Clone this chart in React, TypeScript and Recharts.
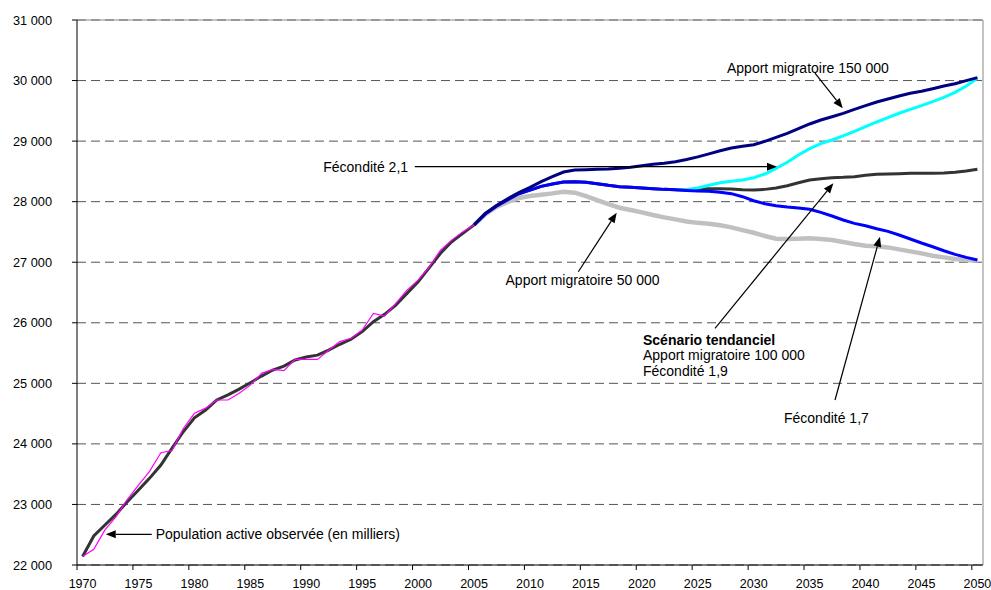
import React from 'react';
import { LineChart, Line, XAxis, YAxis, CartesianGrid, ReferenceLine, ReferenceDot } from 'recharts';

// Years 1970..2050
const years: number[] = Array.from({ length: 81 }, (_, i) => 1970 + i);

// Population active observée, 1970..2005 (milliers)
const observed: number[] = [
  22140, 22260, 22580, 22800, 23085, 23320, 23550, 23855, 23890, 24255,
  24505, 24590, 24725, 24725, 24835, 24970, 25165, 25230, 25210, 25395,
  25395, 25395, 25545, 25690, 25745, 25880, 26155, 26110, 26320, 26540,
  26705, 26925, 27200, 27365, 27505, 27615,
];

// Scénario tendanciel, 1970..2050
const tendanciel: number[] = [
  22140, 22480, 22660, 22840, 23045, 23240, 23435, 23650, 23930, 24200,
  24430, 24560, 24725, 24810, 24905, 25010, 25120, 25220, 25285, 25385,
  25435, 25465, 25550, 25645, 25727, 25853, 26018, 26140, 26293, 26486,
  26679, 26910, 27147, 27339, 27477, 27615, 27795, 27925, 28030, 28131,
  28191, 28253, 28291, 28324, 28330, 28319, 28297, 28270, 28248, 28237,
  28226, 28215, 28203, 28198, 28192, 28209, 28214, 28214, 28209, 28198,
  28192, 28203, 28225, 28264, 28313, 28358, 28380, 28396, 28402, 28413,
  28435, 28452, 28457, 28462, 28468, 28468, 28468, 28474, 28485, 28506,
  28534,
];

// Apport migratoire 150 000, 2005..2050
const migr150: number[] = [
  27615, 27805, 27935, 28048, 28148, 28236, 28330, 28413, 28490, 28523,
  28528, 28534, 28540, 28551, 28567, 28594, 28617, 28633, 28660, 28695,
  28740, 28790, 28840, 28885, 28915, 28941, 28997, 29063, 29129, 29205,
  29283, 29348, 29403, 29458, 29525, 29585, 29646, 29695, 29745, 29789,
  29822, 29866, 29910, 29948, 29998, 30048,
];

// Apport migratoire 50 000, 2005..2050
const migr50: number[] = [
  27615, 27790, 27915, 27995, 28060, 28093, 28115, 28137, 28165, 28148,
  28093, 28027, 27961, 27900, 27862, 27824, 27780, 27741, 27708, 27672,
  27650, 27635, 27610, 27576, 27530, 27487, 27433, 27388, 27383, 27388,
  27394, 27383, 27367, 27333, 27300, 27272, 27262, 27245, 27212, 27179,
  27146, 27107, 27080, 27053, 27036, 27025,
];

// Fécondité 2,1, 2023..2050
const fec21: number[] = [
  28198, 28200, 28226, 28270, 28313, 28336, 28358, 28396, 28457, 28551,
  28650, 28771, 28875, 28958, 29019, 29085, 29162, 29239, 29316, 29387,
  29460, 29525, 29585, 29651, 29723, 29806, 29910, 30037,
];

// Fécondité 1,7, 2005..2050
const fec17: number[] = [
  27615, 27795, 27925, 28030, 28131, 28191, 28253, 28291, 28324, 28330,
  28319, 28297, 28270, 28248, 28237, 28226, 28215, 28203, 28198, 28185,
  28176, 28170, 28154, 28132, 28082, 28016, 27967, 27934, 27912, 27896,
  27874, 27824, 27763, 27697, 27642, 27603, 27554, 27510, 27449, 27383,
  27317, 27256, 27190, 27130, 27080, 27036,
];

const yTicks = [22000, 23000, 24000, 25000, 26000, 27000, 28000, 29000, 30000, 31000];
const xTicks = [1970, 1975, 1980, 1985, 1990, 1995, 2000, 2005, 2010, 2015, 2020, 2025, 2030, 2035, 2040, 2045, 2050];

const from = (arr: number[], start: number, y: number) => {
  const i = y - start;
  return i >= 0 && i < arr.length ? arr[i] : null;
};

// points sit in the middle of each year, as in the original
const data = years.map(y => ({
  x: y + 0.5,
  observed: from(observed, 1970, y),
  tendanciel: from(tendanciel, 1970, y),
  migr150: from(migr150, 2005, y),
  migr50: from(migr50, 2005, y),
  fec21: from(fec21, 2023, y),
  fec17: from(fec17, 2005, y),
}));

const FONT = '"Liberation Sans", Arial, sans-serif';
const W = 991, H = 590;
const M = { top: 20, right: 8, bottom: 0, left: 0 };
const Y_W = 77;
const HALF_YEAR = (W - M.right - Y_W) / 81 / 2;

const fmt = (v: number) => `${Math.floor(v / 1000)} ${String(v % 1000).padStart(3, '0')}`;

// year labels are centred under the year, tick marks sit on the year boundary
const XTick = (props: any) => (
  <text x={props.x + HALF_YEAR} y={props.y} dy="0.71em" textAnchor="middle"
    fontFamily={FONT} fontSize={12.5} fill="#000">{props.payload.value}</text>
);

const Arrow = (props: any) => {
  const { x1, y1, x2, y2 } = props;
  const a = Math.atan2(y2 - y1, x2 - x1);
  const len = 10, half = 4;
  const bx = x2 - len * Math.cos(a), by = y2 - len * Math.sin(a);
  const p = `${x2},${y2} ${bx + half * Math.sin(a)},${by - half * Math.cos(a)} ${bx - half * Math.sin(a)},${by + half * Math.cos(a)}`;
  return (
    <g>
      <line x1={x1} y1={y1} x2={bx} y2={by} stroke="#000" strokeWidth={1.2} />
      <polygon points={p} fill="#000" />
    </g>
  );
};

const label = (text: string, anchor: string, bold = false) => (props: any) => (
  <text x={props.cx} y={props.cy} dy="0.35em" textAnchor={anchor} fontFamily={FONT}
    fontSize={14} fontWeight={bold ? 'bold' : 'normal'} fill="#000">{text}</text>
);

const arrows = [
  [[2035.98, 30124], [2038.46, 29541]],
  [[2000.2, 28578], [2032.58, 28578]],
  [[2014.82, 26843], [2018.25, 27818]],
  [[2027.04, 25909], [2037.62, 28303]],
  [[2037.77, 24725], [2041.79, 27421]],
  [[1976.68, 22507], [1972.57, 22507]],
];

const texts: [number, number, string, string, boolean][] = [
  [2035.35, 30207, 'Apport migratoire 150 000', 'middle', false],
  [1999.6, 28578, 'Fécondité 2,1', 'end', false],
  [2015.2, 26706, 'Apport migratoire 50 000', 'middle', false],
  [2020.6, 25716, 'Scénario tendanciel', 'start', true],
  [2020.6, 25468, 'Apport migratoire 100 000', 'start', false],
  [2020.6, 25202, 'Fécondité 1,9', 'start', false],
  [2037.0, 24422, 'Fécondité 1,7', 'middle', false],
  [1977.03, 22507, 'Population active observée (en milliers)', 'start', false],
];

export default function App() {
  return (
    <div style={{ width: W, height: H, background: '#fff' }}>
      <style>{'body{margin:0}'}</style>
      <LineChart width={W} height={H} data={data} margin={M}>
        <CartesianGrid vertical={false} stroke="#555" strokeDasharray="9 5" />
        <XAxis dataKey="x" type="number" domain={[1970, 2051]} ticks={xTicks} interval={0}
          height={25} tickSize={5} tickMargin={9} stroke="#000" tick={XTick} />
        <YAxis type="number" domain={[22000, 31000]} ticks={yTicks} interval={0} width={Y_W}
          tickSize={5} tickMargin={20} tickFormatter={fmt} stroke="#000"
          tick={{ fill: '#000', fontSize: 12.75, fontFamily: FONT }} />
        <ReferenceLine y={31000} stroke="#888" />
        <ReferenceLine x={2051} stroke="#888" />
        <Line dataKey="tendanciel" stroke="#333333" strokeWidth={3} dot={false} isAnimationActive={false} />
        <Line dataKey="migr50" stroke="#C0C0C0" strokeWidth={4.5} dot={false} isAnimationActive={false} />
        <Line dataKey="fec21" stroke="#00FFFF" strokeWidth={3} dot={false} isAnimationActive={false} />
        <Line dataKey="fec17" stroke="#0000FF" strokeWidth={3} dot={false} isAnimationActive={false} />
        <Line dataKey="migr150" stroke="#000080" strokeWidth={3} dot={false} isAnimationActive={false} />
        <Line dataKey="observed" stroke="#FF00FF" strokeWidth={1.2} dot={false} isAnimationActive={false} />
        {arrows.map((s, i) => (
          <ReferenceLine key={`a${i}`} segment={[{ x: s[0][0], y: s[0][1] }, { x: s[1][0], y: s[1][1] }]}
            shape={Arrow} />
        ))}
        {texts.map((t, i) => (
          <ReferenceDot key={`t${i}`} x={t[0]} y={t[1]} r={0} shape={label(t[2], t[3], t[4])} />
        ))}
      </LineChart>
    </div>
  );
}
